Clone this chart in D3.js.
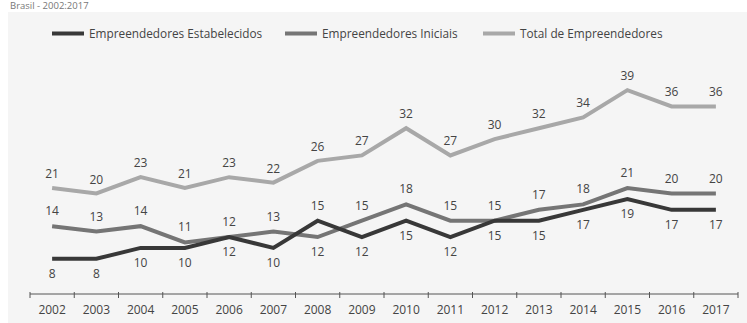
<!DOCTYPE html>
<html>
<head>
<meta charset="utf-8">
<script src="https://cdn.jsdelivr.net/npm/d3@7"></script>
<style>
  html, body { margin: 0; padding: 0; background: #ffffff; }
  svg { display: block; }
  text { font-family: "Open Sans", sans-serif; }
</style>
</head>
<body>
<script>
const years = ["2002","2003","2004","2005","2006","2007","2008","2009","2010","2011","2012","2013","2014","2015","2016","2017"];
const estabelecidos = [8, 8, 10, 10, 12, 10, 15, 12, 15, 12, 15, 15, 17, 19, 17, 17];
const iniciais = [14, 13, 14, 11, 12, 13, 12, 15, 18, 15, 15, 17, 18, 21, 20, 20];
const total = [21, 20, 23, 21, 23, 22, 26, 27, 32, 27, 30, 32, 34, 39, 36, 36];
const seriesNames = ["Empreendedores Estabelecidos", "Empreendedores Iniciais", "Total de Empreendedores"];
const seriesColors = ["#383838", "#757575", "#a8a8a8"];
const titleText = "Brasil - 2002:2017";

const W = 747, H = 323;
const svg = d3.select("body").append("svg").attr("width", W).attr("height", H);

// panel background
svg.append("rect").attr("x", 8).attr("y", 12).attr("width", W - 8).attr("height", H - 12).attr("fill", "#f5f5f5");

// small title at top
svg.append("text").attr("x", 10).attr("y", 9).attr("font-size", 9.5).attr("fill", "#777").text(titleText);

const x = d3.scaleBand().domain(years).range([30, 738]).paddingInner(0).paddingOuter(0);
const y = d3.scaleLinear().domain([0, 40]).range([302.3, 84.7]);

// axis
const axisG = svg.append("g").attr("transform", "translate(0,294)");
axisG.append("line").attr("x1", x.range()[0]).attr("x2", x.range()[1]).attr("stroke", "#555").attr("stroke-width", 1);
const tickPos = years.map(d => x(d)).concat([x.range()[1]]);
axisG.selectAll("line.tick").data(tickPos).join("line").attr("class", "tick")
  .attr("x1", d => d).attr("x2", d => d).attr("y1", -2).attr("y2", 4)
  .attr("stroke", "#555").attr("stroke-width", 1);
axisG.selectAll("text.yl").data(years).join("text").attr("class", "yl")
  .attr("x", d => x(d) + x.bandwidth() / 2).attr("y", 20)
  .attr("text-anchor", "middle").attr("font-size", 12).attr("fill", "#444").text(d => d);

const data = [estabelecidos, iniciais, total];
const line = d3.line().x((d, i) => x(years[i]) + x.bandwidth() / 2).y(d => y(d));

// draw lines: total first, then iniciais, then estabelecidos on top
[2, 1, 0].forEach(k => {
  svg.append("path").datum(data[k]).attr("d", line)
    .attr("fill", "none").attr("stroke", seriesColors[k]).attr("stroke-width", 4)
    .attr("stroke-linejoin", "miter");
});

// labels
function labelOffset(k, i) {
  if (k === 2) return -10;
  const e = estabelecidos[i], n = iniciais[i];
  const isUpper = (k === 1) ? n >= e : e > n;
  return isUpper ? -11 : 19;
}
[0, 1, 2].forEach(k => {
  svg.append("g").selectAll("text").data(data[k]).join("text")
    .attr("x", (d, i) => x(years[i]) + x.bandwidth() / 2)
    .attr("y", (d, i) => y(d) + labelOffset(k, i))
    .attr("text-anchor", "middle").attr("font-size", 12).attr("fill", "#444")
    .text(d => d);
});

// legend
const legendX = [52, 285, 483];
const lg = svg.append("g");
seriesNames.forEach((name, k) => {
  lg.append("rect").attr("x", legendX[k]).attr("y", 31.5).attr("width", 32).attr("height", 4).attr("fill", seriesColors[k]);
  lg.append("text").attr("x", legendX[k] + 37).attr("y", 38).attr("font-size", 11.8).attr("fill", "#444").text(name);
});
</script>
</body>
</html>
